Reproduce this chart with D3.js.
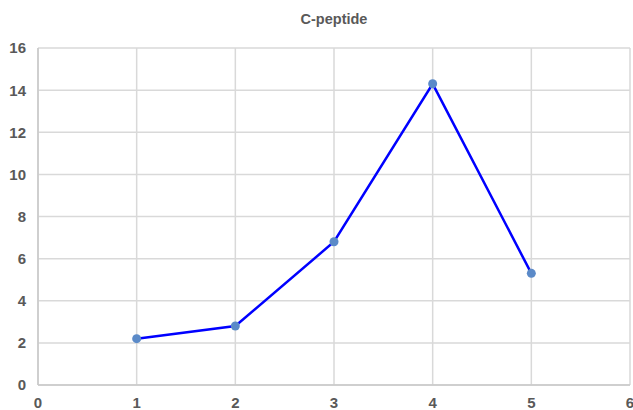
<!DOCTYPE html>
<html lang="en">
<head>
    <meta charset="UTF-8">
    <title>C-peptide</title>
    <script src="https://d3js.org/d3.v7.min.js"></script>
    <style>
        body { margin: 0; background: white; }
        text { font-family: "Liberation Sans", Arial, sans-serif; fill: #595959; font-weight: bold; }
        .grid line { stroke: #d9d9d9; stroke-width: 1.5; }
    </style>
</head>
<body>
<script>
    const width  = 633;
    const height = 410;

    const xValues = [1, 2, 3, 4, 5];
    const yValues = [2.2, 2.8, 6.8, 14.3, 5.3];
    const xTicks  = [0, 1, 2, 3, 4, 5, 6];
    const yTicks  = [0, 2, 4, 6, 8, 10, 12, 14, 16];

    const margin = {top: 48, right: 3, bottom: 25, left: 38};

    const x = d3.scaleLinear().domain([0, 6]).range([margin.left, width - margin.right]);
    const y = d3.scaleLinear().domain([0, 16]).range([height - margin.bottom, margin.top]);

    const svg = d3.select("body").append("svg").attr("width", width).attr("height", height);

    // gridlines
    const grid = svg.append("g").attr("class", "grid");
    grid.selectAll("line.h").data(yTicks).enter().append("line").attr("class", "h")
        .attr("x1", x(0)).attr("x2", x(6))
        .attr("y1", d => y(d)).attr("y2", d => y(d));
    grid.selectAll("line.v").data(xTicks).enter().append("line").attr("class", "v")
        .attr("y1", y(0)).attr("y2", y(16))
        .attr("x1", d => x(d)).attr("x2", d => x(d));

    // axis lines
    svg.append("line")
        .attr("x1", x(0)).attr("x2", x(6)).attr("y1", y(0)).attr("y2", y(0))
        .attr("stroke", "#c8c8c8").attr("stroke-width", 1.5);
    svg.append("line")
        .attr("x1", x(0)).attr("x2", x(0)).attr("y1", y(0)).attr("y2", y(16))
        .attr("stroke", "#c8c8c8").attr("stroke-width", 1.5);

    // tick labels
    svg.selectAll("text.ytick").data(yTicks).enter().append("text").attr("class", "ytick")
        .attr("x", 26).attr("y", d => y(d)).attr("dy", "0.36em")
        .attr("text-anchor", "end").style("font-size", "15px")
        .text(d => d);
    svg.selectAll("text.xtick").data(xTicks).enter().append("text").attr("class", "xtick")
        .attr("x", d => x(d)).attr("y", y(0) + 23)
        .attr("text-anchor", "middle").style("font-size", "15px")
        .text(d => d);

    // title
    svg.append("text")
        .attr("x", (x(0) + x(6)) / 2).attr("y", 24)
        .attr("text-anchor", "middle").style("font-size", "14.5px")
        .text("C-peptide");

    const pts = xValues.map((d, i) => [d, yValues[i]]);

    const line = d3.line().x(d => x(d[0])).y(d => y(d[1]));
    svg.append("path").datum(pts)
        .attr("d", line)
        .attr("fill", "none").attr("stroke", "#0000ff").attr("stroke-width", 2.5);

    svg.selectAll("circle.pt").data(pts).enter().append("circle").attr("class", "pt")
        .attr("cx", d => x(d[0])).attr("cy", d => y(d[1])).attr("r", 4.5)
        .attr("fill", "#5b8ac8");
</script>
</body>
</html>
